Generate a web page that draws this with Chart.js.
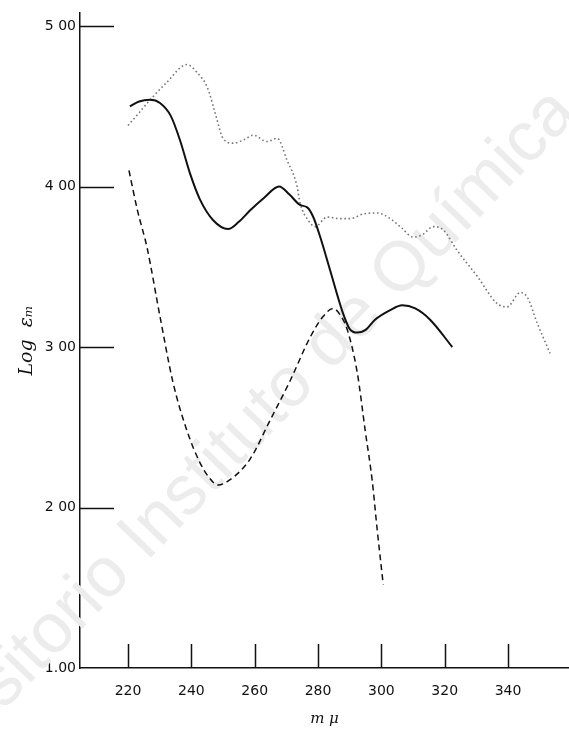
<!DOCTYPE html>
<html>
<head>
<meta charset="utf-8">
<script src="https://cdn.jsdelivr.net/npm/chart.js@4.4.1/dist/chart.umd.min.js"></script>
<style>
html,body{margin:0;padding:0;background:#fff;}
#wrap{width:569px;height:732px;}
</style>
</head>
<body>
<div id="wrap"><canvas id="c" width="569" height="732"></canvas></div>
<script>
// ---- data ----
const xTickValues = [220, 240, 260, 280, 300, 320, 340];
const xTickLabels = ['220', '240', '260', '280', '300', '320', '340'];
const yTickValues = [1, 2, 3, 4, 5];
const yTickLabels = ['1.00', '2 00', '3 00', '4 00', '5 00'];

const solidX = [220.6, 223.5, 227, 230.1, 233.5, 236.4, 239.6, 242.7, 246.9, 251.6, 255, 258.5, 263, 267.7, 271, 274.3, 276.6, 278.5, 280.7, 283.8, 287.9, 290.1, 292.4, 294.9, 298, 302.8, 306.6, 310.7, 315.4, 322.4];
const solidY = [4.50, 4.53, 4.54, 4.52, 4.44, 4.29, 4.08, 3.92, 3.79, 3.735, 3.78, 3.85, 3.93, 4.00, 3.95, 3.885, 3.87, 3.81, 3.685, 3.48, 3.21, 3.11, 3.09, 3.105, 3.17, 3.23, 3.26, 3.24, 3.17, 3.00];

const dashX = [220.3, 223, 226, 230.1, 234.2, 238.6, 242.7, 245.5, 248.4, 252, 258.5, 264.9, 271.2, 277.5, 281.6, 284.8, 287, 289.2, 292.4, 294.9, 297.1, 298.7, 300.6];
const dashY = [4.10, 3.85, 3.62, 3.19, 2.78, 2.48, 2.28, 2.19, 2.14, 2.17, 2.30, 2.545, 2.79, 3.06, 3.19, 3.24, 3.20, 3.11, 2.84, 2.48, 2.17, 1.86, 1.52];

const dotX = [220, 223.5, 227, 232.3, 238.6, 241.8, 245, 247.5, 250, 253.2, 256.5, 259.5, 263.9, 267.1, 270.2, 273.4, 274.3, 276.9, 279.1, 282.9, 286.5, 290.1, 294.5, 298.7, 302.8, 306.5, 310, 313, 316.4, 319.5, 324, 330.3, 336.6, 339.7, 343.9, 346.1, 349.2, 353.3];
const dotY = [4.38, 4.46, 4.54, 4.65, 4.76, 4.71, 4.62, 4.46, 4.30, 4.27, 4.29, 4.32, 4.28, 4.30, 4.165, 4.00, 3.90, 3.79, 3.75, 3.81, 3.80, 3.80, 3.83, 3.835, 3.80, 3.74, 3.685, 3.70, 3.75, 3.73, 3.60, 3.44, 3.27, 3.25, 3.34, 3.31, 3.15, 2.96];

const xTitle = 'm μ';
const yTitle = 'Log  εₘ';
const watermark = 'Repositorio Instituto de Química';

const pts = (xs, ys) => xs.map((x, i) => ({x: x, y: ys[i]}));

// ---- plugins ----
const watermarkPlugin = {
  id: 'watermark',
  beforeDatasetsDraw(chart) {
    const ctx = chart.ctx;
    ctx.save();
    ctx.font = '70px "Liberation Sans", Arial, sans-serif';
    ctx.fillStyle = '#ececec';
    const ang = -46 * Math.PI / 180;
    const pre = ctx.measureText('Repositorio Instituto de ').width;
    const ax = 398, ay = 302;
    const sx = ax - pre * Math.cos(ang);
    const sy = ay - pre * Math.sin(ang);
    ctx.translate(sx, sy);
    ctx.rotate(ang);
    ctx.textBaseline = 'alphabetic';
    ctx.fillText(watermark, 0, 0);
    ctx.restore();
  }
};

const innerTicksPlugin = {
  id: 'innerTicks',
  afterDatasetsDraw(chart) {
    const ctx = chart.ctx;
    const xs = chart.scales.x, ys = chart.scales.y;
    const a = chart.chartArea;
    ctx.save();
    ctx.strokeStyle = '#111';
    ctx.lineWidth = 1.5;
    ctx.beginPath();
    yTickValues.forEach(v => {
      if (v === yTickValues[0]) return;
      const py = Math.round(ys.getPixelForValue(v)) + 0.5;
      ctx.moveTo(a.left, py);
      ctx.lineTo(a.left + 34, py);
    });
    xTickValues.forEach(v => {
      const px = Math.round(xs.getPixelForValue(v)) + 0.5;
      ctx.moveTo(px, a.bottom);
      ctx.lineTo(px, a.bottom - 24);
    });
    ctx.stroke();
    ctx.restore();
  }
};

new Chart(document.getElementById('c'), {
  type: 'line',
  data: {
    datasets: [
      {
        label: 'solid',
        data: pts(solidX, solidY),
        borderColor: '#111',
        borderWidth: 2,
        pointRadius: 0,
        cubicInterpolationMode: 'monotone',
        fill: false
      },
      {
        label: 'dashed',
        data: pts(dashX, dashY),
        borderColor: '#111',
        borderWidth: 1.5,
        borderDash: [6, 4],
        pointRadius: 0,
        cubicInterpolationMode: 'monotone',
        fill: false
      },
      {
        label: 'dotted',
        data: pts(dotX, dotY),
        borderColor: '#777',
        borderWidth: 1.6,
        borderDash: [1.6, 2.6],
        pointRadius: 0,
        cubicInterpolationMode: 'monotone',
        fill: false
      }
    ]
  },
  options: {
    responsive: false,
    animation: false,
    devicePixelRatio: 1,
    layout: {padding: {top: 13, right: 0, bottom: 0, left: 0}},
    plugins: {legend: {display: false}, tooltip: {enabled: false}},
    scales: {
      x: {
        type: 'linear',
        min: 204.84,
        max: 359.26,
        afterBuildTicks(scale) { scale.ticks = xTickValues.map(v => ({value: v})); },
        afterFit(scale) { scale.height = 64; },
        grid: {display: false, drawTicks: false},
        border: {display: true, color: '#111', width: 1.5},
        ticks: {
          color: '#111',
          padding: 15,
          maxRotation: 0,
          autoSkip: false,
          font: {family: '"DejaVu Sans", sans-serif', size: 14},
          callback(v) { const i = xTickValues.indexOf(v); return i >= 0 ? xTickLabels[i] : ''; }
        },
        title: {
          display: true,
          text: xTitle,
          color: '#111',
          padding: {top: 0, bottom: 4},
          font: {family: '"DejaVu Serif", serif', size: 15, style: 'italic'}
        }
      },
      y: {
        type: 'linear',
        min: 1,
        max: 5.081,
        afterBuildTicks(scale) { scale.ticks = yTickValues.map(v => ({value: v})); },
        afterFit(scale) { scale.width = 80; },
        grid: {display: false, drawTicks: false},
        border: {display: true, color: '#111', width: 1.5},
        ticks: {
          color: '#111',
          padding: 4,
          autoSkip: false,
          font: {family: '"DejaVu Sans", sans-serif', size: 14},
          callback(v) { const i = yTickValues.indexOf(v); return i >= 0 ? yTickLabels[i] : ''; }
        },
        title: {
          display: true,
          text: yTitle,
          color: '#111',
          padding: {top: 16, bottom: 0},
          font: {family: '"DejaVu Serif", serif', size: 19, style: 'italic'}
        }
      }
    }
  },
  plugins: [watermarkPlugin, innerTicksPlugin]
});
</script>
</body>
</html>
